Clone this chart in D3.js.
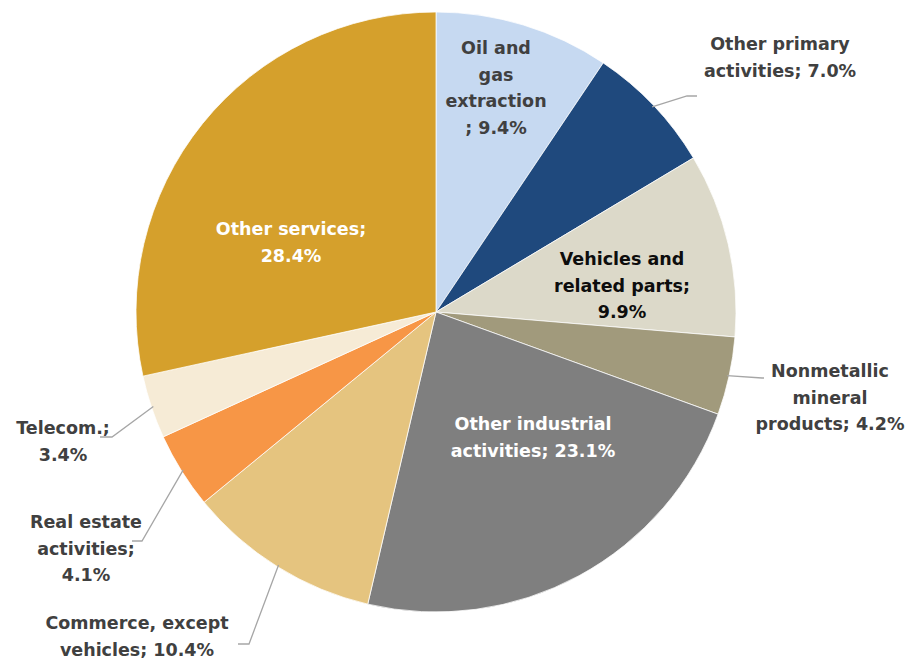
<!DOCTYPE html>
<html>
<head>
<meta charset="utf-8">
<script src="https://cdn.jsdelivr.net/npm/d3@7"></script>
<style>
  html, body { margin: 0; padding: 0; background: #fff; }
  svg text { font-family: "DejaVu Sans", sans-serif; font-weight: bold; }
</style>
</head>
<body>
<svg id="chart" width="908" height="658"></svg>
<script>
// Sector shares of value added (%), clockwise from 12 o'clock
const categories = [
  "Oil and gas extraction",
  "Other primary activities",
  "Vehicles and related parts",
  "Nonmetallic mineral products",
  "Other industrial activities",
  "Commerce, except vehicles",
  "Real estate activities",
  "Telecom.",
  "Other services"
];
const shares = [9.4, 7.0, 9.9, 4.2, 23.1, 10.4, 4.1, 3.4, 28.4];
const colors = ["#c6d9f1", "#1f497d", "#dcd9c9", "#a19a7c", "#7f7f7f",
                "#e5c47f", "#f79646", "#f6ebd6", "#d5a02c"];

// Label text lines per slice
const labelLines = [
  ["Oil and", "gas", "extraction", "; 9.4%"],
  ["Other primary", "activities; 7.0%"],
  ["Vehicles and", "related parts;", "9.9%"],
  ["Nonmetallic", "mineral", "products; 4.2%"],
  ["Other industrial", "activities; 23.1%"],
  ["Commerce, except", "vehicles; 10.4%"],
  ["Real estate", "activities;", "4.1%"],
  ["Telecom.;", "3.4%"],
  ["Other services;", "28.4%"]
];

// Layout: label anchor (center x, first baseline y), text colour, leader elbow
const labelLayout = [
  { x: 496, y: 54, fill: "#404040" },
  { x: 780, y: 50, fill: "#404040", leader: [[687, 96], [697, 96]] },
  { x: 622, y: 265, fill: "#0d0d0d" },
  { x: 830, y: 377, fill: "#404040", leader: [[762, 378], [764, 378]] },
  { x: 533, y: 430, fill: "#ffffff" },
  { x: 137, y: 629, fill: "#404040", leader: [[249, 644], [238, 644]] },
  { x: 86, y: 528, fill: "#404040", leader: [[142, 541], [132, 541]] },
  { x: 63, y: 434, fill: "#404040", leader: [[112, 437], [100, 437]] },
  { x: 291, y: 235, fill: "#ffffff" }
];

const cx = 436, cy = 312, radius = 300, lineH = 26.5;

const svg = d3.select("#chart");
const g = svg.append("g").attr("transform", `translate(${cx},${cy})`);

const pie = d3.pie().sort(null).value(d => d)(shares);
const arc = d3.arc().innerRadius(0).outerRadius(radius);

g.selectAll("path.slice")
  .data(pie)
  .join("path")
  .attr("class", "slice")
  .attr("d", arc)
  .attr("fill", (d, i) => colors[i])
  .attr("stroke", "#ffffff")
  .attr("stroke-width", 0.75);

// Leader lines for labels placed outside the pie
const edgeArc = d3.arc().innerRadius(radius - 2).outerRadius(radius - 2);
pie.forEach((d, i) => {
  const lay = labelLayout[i];
  if (!lay.leader) return;
  const [ex, ey] = edgeArc.centroid(d);
  const pts = [[cx + ex, cy + ey], ...lay.leader];
  svg.append("polyline")
    .attr("points", pts.map(p => p.join(",")).join(" "))
    .attr("fill", "none")
    .attr("stroke", "#a6a6a6")
    .attr("stroke-width", 1.3);
});

// Slice labels
labelLines.forEach((lines, i) => {
  const lay = labelLayout[i];
  const t = svg.append("text")
    .attr("text-anchor", "middle")
    .attr("font-size", 17.5)
    .attr("fill", lay.fill);
  lines.forEach((s, k) => {
    t.append("tspan").attr("x", lay.x).attr("y", lay.y + k * lineH).text(s);
  });
});
</script>
</body>
</html>
